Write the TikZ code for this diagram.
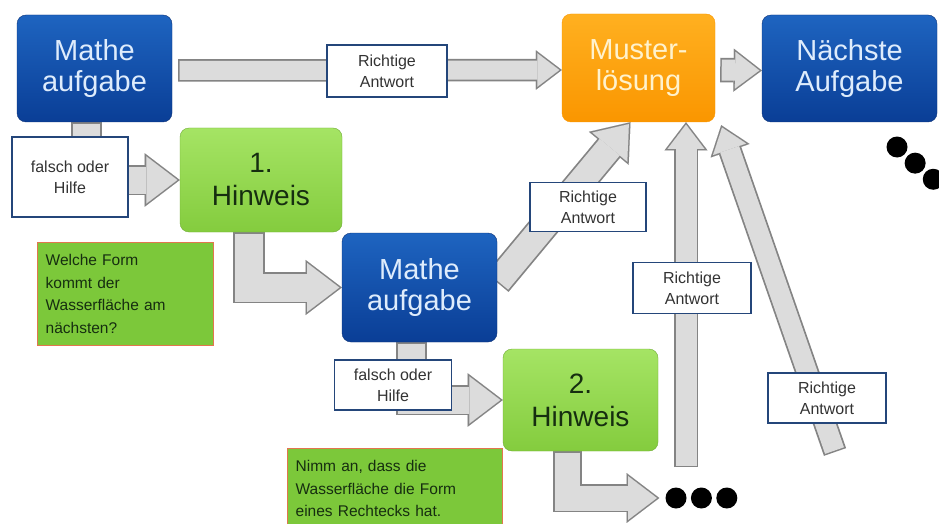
\documentclass[tikz,border=0pt]{standalone}
\usepackage{fontspec}
\setmainfont{Liberation Sans}
\usetikzlibrary{arrows.meta,backgrounds,positioning}
\definecolor{mathtop}{RGB}{30,100,192}
\definecolor{mathbot}{RGB}{10,62,150}
\definecolor{mathline}{RGB}{12,50,120}
\definecolor{mathtext}{RGB}{222,236,252}
\definecolor{mustertop}{RGB}{255,176,32}
\definecolor{musterbot}{RGB}{250,150,0}
\definecolor{mustertext}{RGB}{255,242,205}
\definecolor{hinttop}{RGB}{165,228,100}
\definecolor{hintbot}{RGB}{132,204,62}
\definecolor{hinttext}{RGB}{22,46,16}
\definecolor{notegreen}{RGB}{124,200,58}
\definecolor{noteline}{RGB}{226,118,78}
\definecolor{labelblue}{RGB}{36,70,122}
\definecolor{arrowfill}{RGB}{220,220,220}
\definecolor{arrowline}{RGB}{132,132,132}
\newcommand{\fatarrow}[2]{%
  \draw[fat back,line width=#1+3.5pt] #2;
  \draw[fat front,line width=#1] #2;}

\begin{document}
\begin{tikzpicture}[x=1pt,y=-1pt,
  task node/.style={rectangle,rounded corners=9pt,draw=mathline,top color=mathtop,bottom color=mathbot,
    text=mathtext,align=center,inner sep=0pt,minimum width=155pt,minimum height=107pt,
    font=\fontsize{29}{31}\selectfont},
  key node/.style={task node,draw=musterbot,top color=mustertop,bottom color=musterbot,text=mustertext},
  hint node/.style={task node,draw=hintbot!85!black,top color=hinttop,bottom color=hintbot,text=hinttext,
    font=\fontsize{28}{33}\selectfont},
  label node/.style={rectangle,draw=labelblue,line width=1.6pt,fill=white,text=black!80,align=center,
    inner sep=0pt,minimum width=118pt,minimum height=51pt,font=\fontsize{16}{21}\selectfont},
  note node/.style={rectangle,draw=noteline,line width=1.3pt,fill=notegreen,text=hinttext,align=left,
    anchor=north west,inner xsep=8pt,inner ysep=6pt,font=\fontsize{15.5}{22.5}\selectfont},
  dot node/.style={circle,fill=black,minimum size=21pt,inner sep=0pt},
  fat back/.style={draw=arrowline,-{Triangle[length=0pt 1.15,width=0pt 1.75,line width=0.01pt]}},
  fat front/.style={draw=arrowfill,shorten >=2.5pt,shorten <=1.5pt,
    -{Triangle[length=0pt 1.15,width=0pt 1.75,line width=0.01pt]}}]

  \useasboundingbox (0,0) rectangle (939,524);

  \node[task node] (mathe1) at (94.5,68.5) {Mathe\\aufgabe};
  \node[key node] (muster) at (638.5,68) [minimum width=153pt,minimum height=108pt] {Muster-\\lösung};
  \node[task node] (naechste) at (849.5,68.5) [minimum width=175pt] {Nächste\\Aufgabe};
  \node[hint node] (hint1) at (261,180) [minimum width=162pt,minimum height=104pt] {1.\\Hinweis};
  \node[task node] (mathe2) at (419.5,287.5) [minimum height=109pt] {Mathe\\aufgabe};
  \node[hint node] (hint2) at (580.5,400) [minimum height=102pt] {2.\\Hinweis};

  \node[note node] (note1) at (37,242) [text width=160pt,minimum height=103pt]
    {Welche Form\\kommt der\\Wasserfläche am\\nächsten?};
  \node[note node] (note2) at (287,448) [text width=199pt,minimum height=80pt]
    {Nimm an, dass die\\Wasserfläche die Form\\eines Rechtecks hat.};

  \node[dot node] (dot1) at (676,498) {};
  \node[dot node] (dot2) [right=4pt of dot1] {};
  \node[dot node] (dot3) [right=4pt of dot2] {};
  \node[dot node] (more1) at (897,147) {};
  \node[dot node] (more2) [below right=1pt and 3pt of more1] {};
  \node[dot node] (more3) [below right=1pt and 3pt of more2] {};

  \coordinate (vbase) at (686,467);
  \coordinate (dbase) at (835,452);

  \begin{pgfonlayer}{background}
    \fill[white] (0,0) rectangle (939,524);
    \fatarrow{19pt}{([xshift=6pt,yshift=-2pt]mathe1.east) -- ([yshift=-2pt]muster.west)}
    \fatarrow{21pt}{([xshift=5pt,yshift=-2pt]muster.east) -- ([yshift=-2pt]naechste.west)}
    \fatarrow{27pt}{([xshift=-8pt]mathe1.south) |- (hint1.west)}
    \fatarrow{28pt}{([xshift=-12pt]hint1.south) |- (mathe2.west)}
    \fatarrow{26pt}{([yshift=5pt]mathe2.east) -- ([xshift=-8pt]muster.south)}
    \fatarrow{27pt}{([xshift=-8pt]mathe2.south) |- (hint2.west)}
    \fatarrow{25pt}{([xshift=-13pt]hint2.south) |- ([xshift=-6pt]dot1.west)}
    \fatarrow{21pt}{(vbase) -- (vbase |- muster.south)}
    \fatarrow{20pt}{(dbase) -- ([xshift=6pt,yshift=-3pt]muster.south east)}
  \end{pgfonlayer}

  \node[label node] (right1) at (387,71) [minimum width=120pt,minimum height=52pt] {Richtige\\Antwort};
  \node[label node] (wrong1) at (70,177) [minimum width=116pt,minimum height=80pt] {falsch oder\\Hilfe};
  \node[label node] (right2) at (588,207) [minimum width=116pt,minimum height=49pt] {Richtige\\Antwort};
  \node[label node] (right3) at (692,288) {Richtige\\Antwort};
  \node[label node] (right4) at (827,398) [minimum height=50pt] {Richtige\\Antwort};
  \node[label node] (wrong2) at (393,385) [minimum width=117pt,minimum height=50pt] {falsch oder\\Hilfe};
\end{tikzpicture}
\end{document}
